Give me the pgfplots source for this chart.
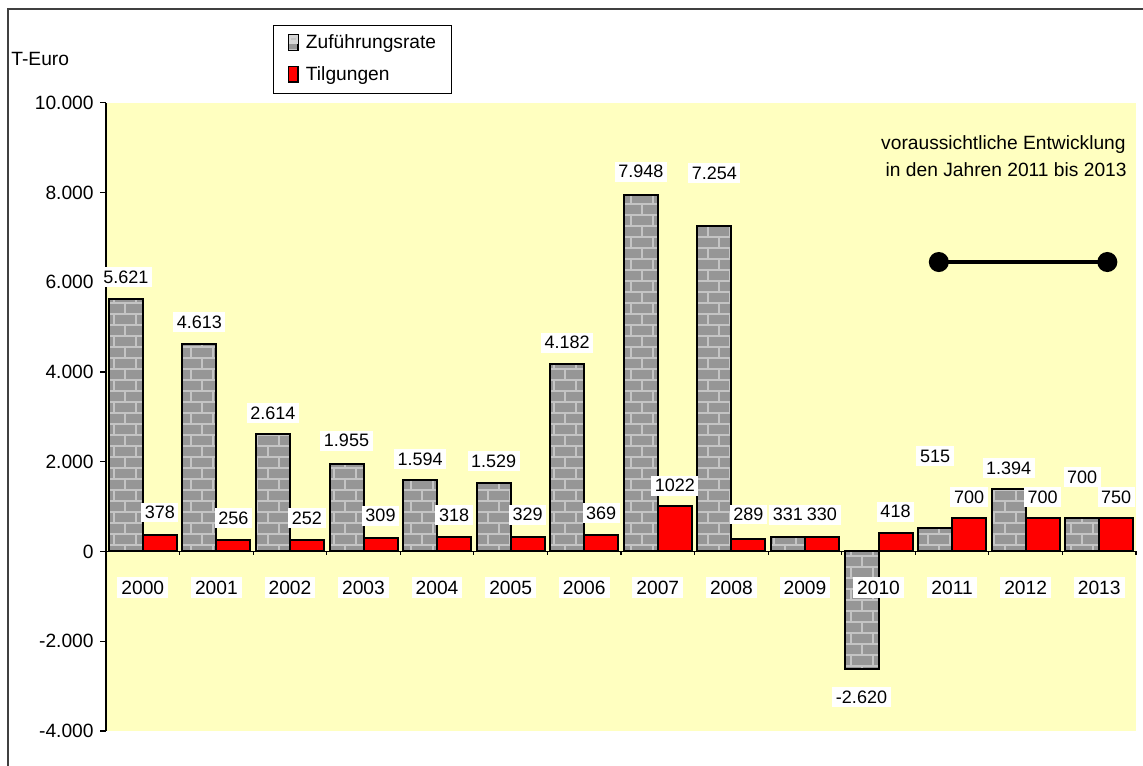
\documentclass[border=0pt]{standalone}
\usepackage{fontspec}
\setmainfont{Liberation Sans}
\usepackage{pgfplots}
\pgfplotsset{compat=1.18}
\usepackage{pgfplotstable}
\usetikzlibrary{patterns}

\definecolor{plotbg}{HTML}{FFFFC0}
\definecolor{brick}{HTML}{969696}
\definecolor{mortar}{HTML}{C4C4C4}
\definecolor{frame}{HTML}{404040}

\pgfdeclarepatternformonly{mybricks}{\pgfqpoint{-0.6pt}{-0.6pt}}{\pgfqpoint{11.6pt}{11.6pt}}{\pgfqpoint{11pt}{11pt}}{%
  \pgfsetlinewidth{0.9pt}%
  \pgfpathmoveto{\pgfqpoint{0pt}{0pt}}\pgfpathlineto{\pgfqpoint{11pt}{0pt}}%
  \pgfpathmoveto{\pgfqpoint{0pt}{5.5pt}}\pgfpathlineto{\pgfqpoint{11pt}{5.5pt}}%
  \pgfpathmoveto{\pgfqpoint{2pt}{0pt}}\pgfpathlineto{\pgfqpoint{2pt}{5.5pt}}%
  \pgfpathmoveto{\pgfqpoint{7.5pt}{5.5pt}}\pgfpathlineto{\pgfqpoint{7.5pt}{11pt}}%
  \pgfusepath{stroke}}

\newcommand{\lblfont}{\fontsize{9}{10.8}\selectfont}
\newcommand{\txtfont}{\fontsize{9.6}{11.5}\selectfont}

\pgfplotstableread{
x z zl zy t tl ty
0 5621 5.621 11 378 378 11
1 4613 4.613 11 256 256 11
2 2614 2.614 10.5 252 252 11
3 1955 1.955 11.5 309 309 11
4 1594 1.594 10.5 318 318 11
5 1529 1.529 11 329 329 11
6 4182 4.182 10.5 369 369 11
7 7948 7.948 11.5 1022 1022 10
8 7254 7.254 26.5 289 289 12
9 331 331 11 330 330 11
10 -2620 -2.620 -14 418 418 10.5
11 515 515 36 750 700 10.5
12 1394 1.394 10.5 750 700 10.5
13 750 700 20.5 750 750 10.5
}\data

\pgfplotstableread{
x y
10.82 6450
13.11 6450
}\trend

\begin{document}
\begin{tikzpicture}[font=\txtfont]
\path[use as bounding box] (-53pt,-17pt) rectangle (518.5pt,365.5pt);
\draw[frame, line width=1pt] (-49pt,-40pt) rectangle (540pt,361pt);
\begin{axis}[
  at={(0pt,0pt)}, anchor=south west,
  scale only axis, width=515pt, height=314.15pt,
  xmin=-0.5, xmax=13.5, ymin=-4000, ymax=10000,
  clip=false, axis on top,
  scaled y ticks=false,
  axis background/.style={fill=plotbg},
  axis x line=middle, axis y line=left,
  axis line style={-, black, line width=0.6pt},
  ybar, bar width=17pt,
  xtick={0,...,13},
  xticklabels={2000,2001,2002,2003,2004,2005,2006,2007,2008,2009,2010,2011,2012,2013},
  x tick style={draw=none},
  xticklabel style={fill=white, inner sep=2pt, anchor=center, yshift=-15pt},
  ytick={-4000,-2000,0,2000,4000,6000,8000,10000},
  yticklabels={-4.000,-2.000,0,2.000,4.000,6.000,8.000,10.000},
  ytick align=outside, major tick length=3pt,
  y tick style={black, line width=0.6pt},
  yticklabel style={inner sep=0pt, xshift=-3pt},
  tick label style={font=\txtfont},
  legend style={at={(0.1618,1.1241)}, anchor=north west, draw=black, line width=0.5pt,
    inner xsep=7.5pt, inner ysep=4.35pt, row sep=6.3pt,
    nodes={inner sep=0pt, text height=7pt, text depth=2.5pt},
    /tikz/every odd column/.append style={column sep=3.7pt},
    font=\txtfont},
  legend cell align=left,
]
\addplot[bar shift=-8.5pt, fill=brick, draw=black, line width=1pt,
  postaction={pattern=mybricks, pattern color=mortar},
  legend image code/.code={\draw[fill=brick, draw=black, line width=0.6pt] (0pt,-3.2pt) rectangle (4.6pt,4.6pt);
     \fill[mortar!70!white] (0.7pt,0.4pt) rectangle (3.9pt,4.0pt);},
  point meta=explicit symbolic,
  visualization depends on={\thisrow{zy} \as \ly},
  nodes near coords,
  every node near coord/.append style={fill=white, text=black, inner sep=1.8pt, anchor=center, yshift=\ly pt, font=\lblfont}
] table[x=x, y=z, meta=zl] {\data};
\addplot[bar shift=8.5pt, fill=red, draw=black, line width=1pt,
  legend image code/.code={\draw[fill=red, draw=black, line width=0.6pt] (0pt,-3.2pt) rectangle (4.6pt,4.6pt);},
  point meta=explicit symbolic,
  visualization depends on={\thisrow{ty} \as \ly},
  nodes near coords,
  every node near coord/.append style={fill=white, text=black, inner sep=1.8pt, anchor=center, yshift=\ly pt, font=\lblfont}
] table[x=x, y=t, meta=tl] {\data};
\addplot[sharp plot, black, line width=1.6pt, mark=*, mark size=4.2pt, mark options={fill=black}] table[x=x, y=y] {\trend};
\legend{Zuführungsrate,Tilgungen}
\pgfplotsinvokeforeach{-0.5,0.5,1.5,2.5,3.5,4.5,5.5,6.5,7.5,8.5,9.5,10.5,11.5,12.5,13.5}{\draw[black, line width=0.6pt] (axis cs:#1,0) -- ([yshift=-2pt]axis cs:#1,0);}
\end{axis}
\node[anchor=base west, inner sep=0pt] at (-47.5pt,332.5pt) {T-Euro};
\node[anchor=base east, inner sep=0pt] at (510pt,290.5pt) {voraussichtliche Entwicklung};
\node[anchor=base east, inner sep=0pt] at (510.5pt,277.2pt) {in den Jahren 2011 bis 2013};
\end{tikzpicture}
\end{document}
